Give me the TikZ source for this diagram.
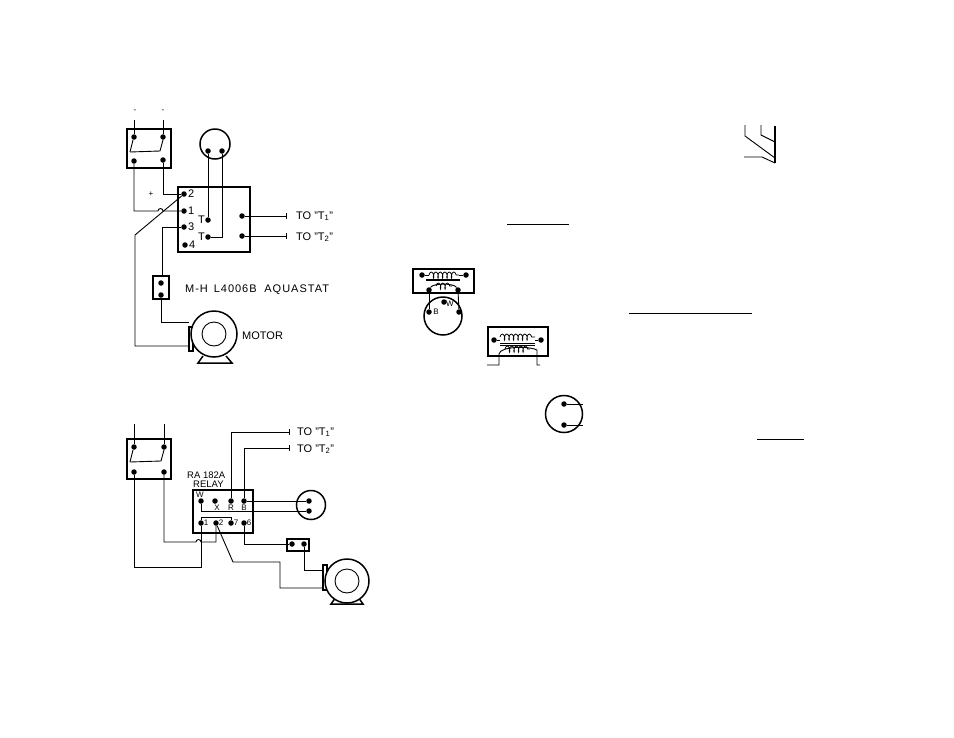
\documentclass[tikz,border=0pt]{standalone}
\usepackage{fontspec}
\setmainfont{Liberation Sans}
\usetikzlibrary{decorations.pathmorphing}
\tikzset{
  term/.style={circle,fill=black,inner sep=0pt,minimum size=5.5pt},
  wire/.style={line width=0.9pt},
  heavy/.style={line width=1.5pt},
  lbl/.style={inner sep=0pt,anchor=west,font=\fontsize{11}{11}\selectfont},
  spaced/.style={inner sep=0pt,anchor=west,font=\fontsize{11}{11}\selectfont\addfontfeature{LetterSpace=9}},
  tiny/.style={inner sep=0pt,font=\fontsize{8}{8}\selectfont},
  coilwire/.style={line width=0.8pt,decorate,decoration={coil,aspect=0.4,segment length=4.5pt,amplitude=3pt}}
}
\begin{document}
\begin{tikzpicture}[x=1pt,y=-1pt]
  \useasboundingbox (0,0) rectangle (954,737);

  % upper diagram
  \draw[heavy] (127,129) rectangle (171,168);
  \node[term] (swa) at (134,137) {};
  \node[term] (swb) at (163,137) {};
  \node[term] (swc) at (134,161) {};
  \node[term] (swd) at (163,160) {};
  \coordinate (lineA) at (134,120);
  \coordinate (lineB) at (163,120);
  \draw[wire] (swa) -- (lineA);
  \draw[wire] (swb) -- (lineB);
  \draw[wire] (130,152) -- (133,140);
  \draw[wire] (130,152) -- (160,151) -- (163,140);
  \node[tiny] (tickA) at (135,111) {-};
  \node[tiny] (tickB) at (163,111) {-};
  \node[tiny] (plus) at (151,194) {+};

  \draw[heavy] (215,144) circle (15);
  \node[term] (thA) at (208,151) {};
  \node[term] (thB) at (222,151) {};

  \draw[heavy] (178,187) rectangle (250,252);
  \node[term] (aq2) at (184,194) {};
  \node[term] (aq1) at (184,211) {};
  \node[term] (aq3) at (184,227) {};
  \node[term] (aq4) at (185,245) {};
  \node[lbl] (n2) at (188,194) {2};
  \node[lbl] (n1) at (188,211) {1};
  \node[lbl] (n3) at (188,227) {3};
  \node[lbl] (n4) at (189,245) {4};
  \node[term] (tA) at (208,220) {};
  \node[term] (tB) at (208,237) {};
  \node[lbl] (tlA) at (198,220) {T};
  \node[lbl] (tlB) at (198,237) {T};
  \node[term] (tOne) at (242,216) {};
  \node[term] (tTwo) at (242,236) {};
  \coordinate (endOne) at (286,216);
  \coordinate (endTwo) at (286,236);
  \node[lbl] (toOne) at (296,216) {TO "T\textsubscript{1}"};
  \node[lbl] (toTwo) at (296,237) {TO "T\textsubscript{2}"};
  \draw[wire] (thA) -- (tA);
  \draw[wire] (thB) |- (tB);
  \draw[wire] (tOne) -- (endOne);
  \draw[wire] (tTwo) -- (endTwo);
  \draw[wire] (286,213) -- (286,219);
  \draw[wire] (286,233) -- (286,239);

  \coordinate (hopA) at (158,211);
  \coordinate (hopB) at (135,235);
  \coordinate (mtA) at (189,346);
  \coordinate (mtB) at (189,322);
  \draw[wire] (swd) |- (aq2);
  \draw[wire] (swc) |- (hopA) arc[start angle=180,end angle=360,radius=2.5] -- (aq1);
  \draw[wire] (aq2) -- (hopB) |- (mtA);
  \draw[wire] (aq3) -| (162,276);

  \draw[heavy] (153,276) rectangle (169,299);
  \node[term] (lsA) at (161,283) {};
  \node[term] (lsB) at (161,295) {};
  \draw[wire] (lsB) |- (mtB);
  \node[spaced] (aquastat) at (185,290) {M-H\, L4006B\,\, AQUASTAT};

  \draw[heavy,fill=white] (189,327) rectangle (193,351);
  \draw[heavy] (203,356) -- (198,363) -- (232,363) -- (226,356);
  \draw[heavy,fill=white] (214,334) circle (23);
  \draw[wire] (214,334) circle (12);
  \node[lbl] (motor) at (242,336) {MOTOR};

  % lower diagram
  \draw[heavy] (127,439) rectangle (171,479);
  \node[term] (swe) at (134,447) {};
  \node[term] (swf) at (164,447) {};
  \node[term] (swg) at (134,472) {};
  \node[term] (swh) at (164,472) {};
  \coordinate (lineC) at (134,424);
  \coordinate (lineD) at (164,424);
  \draw[wire] (swe) -- (lineC);
  \draw[wire] (swf) -- (lineD);
  \draw[wire] (130,462) -- (133,450);
  \draw[wire] (130,462) -- (161,461) -- (164,450);

  \draw[heavy] (193,490) rectangle (253,533);
  \node[term] (reW) at (201,501) {};
  \node[term] (reX) at (215,501) {};
  \node[term] (reR) at (231,501) {};
  \node[term] (reB) at (244,501) {};
  \node[term] (re1) at (201,523) {};
  \node[term] (re2) at (216,523) {};
  \node[term] (re7) at (231,523) {};
  \node[term] (re6) at (244,523) {};
  \node[tiny] (lbW) at (200,495) {W};
  \node[tiny] (lbX) at (217,508) {X};
  \node[tiny] (lbR) at (231,508) {R};
  \node[tiny] (lbB) at (244,508) {B};
  \node[tiny] (lb1) at (206,523) {1};
  \node[tiny] (lb2) at (221,523) {2};
  \node[tiny] (lb7) at (236,523) {7};
  \node[tiny] (lb6) at (249,523) {6};
  \node[lbl,font=\fontsize{9.5}{9.5}\selectfont] (relayA) at (187,475) {RA 182A};
  \node[lbl,font=\fontsize{9.5}{9.5}\selectfont] (relayB) at (193,484) {RELAY};

  \coordinate (endThree) at (289,432);
  \coordinate (endFour) at (289,448);
  \node[lbl] (toThree) at (297,432) {TO "T\textsubscript{1}"};
  \node[lbl] (toFour) at (297,449) {TO "T\textsubscript{2}"};
  \draw[wire] (reR) |- (endThree);
  \draw[wire] (reB) |- (endFour);
  \draw[wire] (289,429) -- (289,435);
  \draw[wire] (289,445) -- (289,451);

  \draw[heavy] (311,505) circle (14.5);
  \node[term] (thC) at (309,501) {};
  \node[term] (thD) at (309,511) {};
  \draw[wire] (reB) -- (thC);
  \draw[wire] (reW) |- (thD);

  \coordinate (hopC) at (196,542);
  \coordinate (jogA) at (216,542);
  \coordinate (linkA) at (201,517);
  \coordinate (linkB) at (231,517);
  \coordinate (retA) at (201,567);
  \coordinate (retB) at (134,567);
  \draw[wire] (re1) -- (retA) -- (retB) -- (swg);
  \draw[wire] (re1) -- (linkA) -- (linkB) -- (re7);
  \draw[wire] (swh) |- (hopC) arc[start angle=180,end angle=360,radius=2.5] -- (jogA) -- (re2);
  \draw[wire] (re2) -- (233,562) -- (280,562) |- (323,588);

  \draw[heavy] (287,539) rectangle (309,551);
  \node[term] (lsC) at (292,544) {};
  \node[term] (lsD) at (304,544) {};
  \draw[wire] (re6) |- (lsC);
  \draw[wire] (lsD) |- (323,570);

  \draw[heavy,fill=white] (323,565) rectangle (327,590);
  \draw[heavy] (336,597) -- (331,604) -- (363,604) -- (358,597);
  \draw[heavy,fill=white] (347,581) circle (22);
  \draw[wire] (347,581) circle (12);

  % transformers and fragments
  \draw[heavy] (413,269) rectangle (474,293);
  \node[term] (tfA) at (422,275) {};
  \node[term] (tfB) at (466,275) {};
  \draw[wire] (tfA) -- (429,275);
  \draw[wire] (459,275) -- (tfB);
  \draw[coilwire] (429,275) -- (459,275);
  \draw[heavy] (426,280) -- (460,280);
  \node[term] (tfC) at (429,290) {};
  \node[term] (tfD) at (458,290) {};
  \draw[wire] (tfC) .. controls (433,283) and (454,283) .. (tfD);
  \draw[coilwire] (436,286) -- (452,286);
  \draw[heavy] (443,316) circle (19);
  \node[term] (thE) at (429,312) {};
  \node[term] (thF) at (444,302) {};
  \node[term] (thG) at (459,312) {};
  \node[tiny] (lbBb) at (436,312) {B};
  \node[tiny] (lbWw) at (450,304) {W};
  \draw[wire] (tfC) -- (thE);
  \draw[wire] (tfD) -- (thG);

  \draw[heavy] (488,327) rectangle (548,356);
  \node[term] (tfE) at (494,340) {};
  \node[term] (tfF) at (541,340) {};
  \draw[wire] (tfE) -- (500,340);
  \draw[wire] (535,340) -- (tfF);
  \draw[coilwire] (500,337) -- (535,337);
  \draw[wire] (500,343) -- (535,343);
  \draw[wire] (500,345) -- (535,345);
  \coordinate (secA) at (487,365);
  \coordinate (secB) at (540,365);
  \draw[wire] (secA) -- (499,365) -- (499,354) .. controls (500,346) and (530,346) .. (537,350) -- (537,365) -- (secB);
  \draw[coilwire] (505,349) -- (530,349);

  \draw[heavy] (564,414) circle (18.5);
  \node[term] (thH) at (564,404) {};
  \node[term] (thI) at (564,425) {};
  \coordinate (endH) at (583,404);
  \coordinate (endI) at (583,425);
  \draw[wire] (thH) -- (endH);
  \draw[wire] (thI) -- (endI);

  \draw[wire] (507,224) -- (569,224);
  \draw[wire] (629,313) -- (752,313);
  \draw[wire] (757,439) -- (804,439);

  \draw[heavy] (775,126) -- (775,163);
  \draw[wire] (745,125) -- (745,136) -- (775,158);
  \draw[wire] (761,125) -- (761,135) -- (775,142);
  \draw[wire] (744,157) -- (762,157) -- (775,163);
\end{tikzpicture}
\end{document}
